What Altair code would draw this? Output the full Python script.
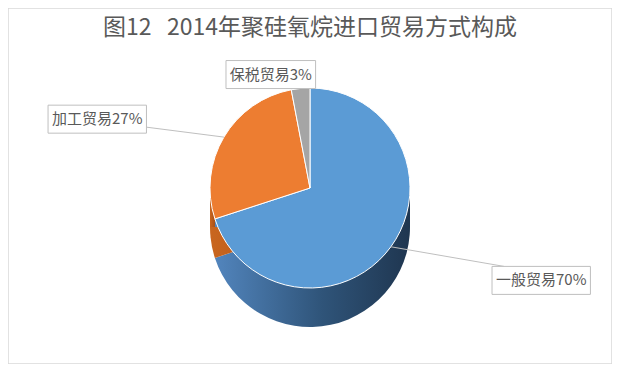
import math
import altair as alt
import pandas as pd

# ---- data ----
categories = ["一般贸易", "加工贸易", "保税贸易"]
shares = [70, 27, 3]
labels = ["一般贸易70%", "加工贸易27%", "保税贸易3%"]
title_text = "图12\u00a0\u00a0\u00a02014年聚硅氧烷进口贸易方式构成"

# ---- styles ----
top_colors = ["#5B9BD5", "#ED7D31", "#A5A5A5"]
wall_grads = [
    ["#5285BD", "#2F5479", "#1F3650"],
    ["#C9661F", "#B8591A", "#A84F15"],
    ["#8C8C8C", "#707070", "#5A5A5A"],
]
FONT = "Noto Sans CJK SC"
TXT = "#595959"

W, H = 604, 356
CX, CY, R, DEPTH = 302, 180, 100, 39
LCY = 186  # reference centre for the data-label layout

base_df = pd.DataFrame({
    "cat": categories,
    "share": shares,
    "label": labels,
    "order": list(range(len(categories))),
})


def with_angles(ch):
    return (
        ch.transform_joinaggregate(total="sum(share)")
        .transform_window(cum="sum(share)", sort=[alt.SortField("order")], frame=[None, 0])
        .transform_calculate(
            t0="(datum.cum - datum.share) / datum.total",
            t1="datum.cum / datum.total",
        )
    )


def grad(stops):
    return {
        "gradient": "linear", "x1": 0, "x2": 1, "y1": 0, "y2": 0,
        "stops": [
            {"offset": 0, "color": stops[0]},
            {"offset": 0.55, "color": stops[1]},
            {"offset": 1, "color": stops[2]},
        ],
    }


theta = alt.Theta("t0:Q", scale=alt.Scale(domain=[0, 1], range=[0, 2 * math.pi]), stack=None)
theta2 = alt.Theta2("t1:Q")

layers = []
# bottom face of the 3D pie
for i, cat in enumerate(categories):
    layers.append(
        with_angles(alt.Chart(base_df))
        .transform_filter(alt.datum.cat == cat)
        .mark_arc(radius=R, fill=grad(wall_grads[i]))
        .encode(theta=theta, theta2=theta2, x=alt.value(CX), y=alt.value(CY + DEPTH))
    )

# side wall (front half of the cylinder, split by slice)
for i, cat in enumerate(categories):
    layers.append(
        with_angles(alt.Chart(base_df))
        .transform_filter(alt.datum.cat == cat)
        .transform_calculate(
            a0="max(datum.t0 * 360, 90)", a1="min(datum.t1 * 360, 270)",
        )
        .transform_filter("datum.a1 > datum.a0")
        .transform_calculate(
            wx0=f"{CX} + {R} * sin(datum.a1 * PI / 180)",
            wx1=f"{CX} + {R} * sin(datum.a0 * PI / 180)",
            wy0=f"{CY}", wy1=f"{CY + DEPTH}",
        )
        .mark_rect(fill=grad(wall_grads[i]))
        .encode(x=alt.X("wx0:Q", scale=None), x2="wx1:Q",
                y=alt.Y("wy0:Q", scale=None), y2="wy1:Q")
    )

# top face
layers.append(
    with_angles(alt.Chart(base_df))
    .mark_arc(radius=R, stroke="white", strokeWidth=1)
    .encode(
        theta=theta, theta2=theta2,
        x=alt.value(CX), y=alt.value(CY),
        color=alt.Color("cat:N", scale=alt.Scale(domain=categories, range=top_colors),
                        legend=None),
        tooltip=["cat:N", "share:Q"],
    )
)

# data labels with callout boxes
lab = (
    with_angles(alt.Chart(base_df))
    .transform_calculate(mid="(datum.t0 + datum.t1) * PI")
    .transform_calculate(
        s="sin(datum.mid)", c="cos(datum.mid)",
        nA="length(datum.label) - length(replace(datum.label, /[0-9%]/g, ''))",
    )
    .transform_calculate(
        side="datum.s > 0.3 ? 1 : (datum.s < -0.3 ? -1 : 0)",
        ex=f"{CX} + {R} * datum.s", ey=f"{CY} - {R} * datum.c",
        bw="(length(datum.label) - datum.nA) * 15 + datum.nA * 8.8 + 12",
    )
    .transform_calculate(
        lx=f"datum.side == 1 ? {CX} + 225 * datum.s : {CX} + 190 * datum.s",
        ly=f"datum.side == 0 ? {LCY} - 120 * datum.c : {LCY} - 147 * datum.c",
    )
    .transform_calculate(
        bx0="datum.side == 1 ? datum.lx : (datum.side == -1 ? datum.lx - datum.bw : datum.ex + 15 - datum.bw)",
        by0="datum.ly - 14", by1="datum.ly + 14",
    )
    .transform_calculate(
        bx1="datum.bx0 + datum.bw",
        tx="datum.bx0 + datum.bw / 2",
        px="datum.side == 1 ? datum.bx0 + 12 : (datum.side == -1 ? datum.bx0 + datum.bw : datum.ex)",
        py="datum.side == 1 ? datum.by0 : (datum.side == -1 ? datum.by1 - 6 : datum.by1)",
    )
)

rules = lab.mark_rule(color="#BFBFBF", strokeWidth=1).encode(
    x=alt.X("ex:Q", scale=None), y=alt.Y("ey:Q", scale=None),
    x2="px:Q", y2="py:Q",
)
boxes = lab.mark_rect(fill="white", stroke="#BFBFBF", strokeWidth=1).encode(
    x=alt.X("bx0:Q", scale=None), x2="bx1:Q",
    y=alt.Y("by0:Q", scale=None), y2="by1:Q",
)
texts = lab.mark_text(font=FONT, fontSize=15, color=TXT, align="center",
                      baseline="middle").encode(
    x=alt.X("tx:Q", scale=None), y=alt.Y("ly:Q", scale=None), text="label:N",
)
layers += [rules, boxes, texts]

chart = (
    alt.layer(*layers)
    .properties(
        width=W, height=H,
        autosize=alt.AutoSizeParams(type="none"),
        padding=0,
        background="white",
        title=alt.TitleParams(
            text=title_text, fontSize=23, font=FONT, fontWeight="normal",
            color=TXT, anchor="middle", frame="group", baseline="top",
            offset=-10, dy=22,
        ),
    )
    .configure(
        view=alt.ViewConfig(stroke="#D9D9D9", strokeWidth=1.5),
        style={"view": {"stroke": "#D9D9D9", "strokeWidth": 1.5}},
    )
)

chart.save("out.html", embed_options={"renderer": "svg", "actions": False})
